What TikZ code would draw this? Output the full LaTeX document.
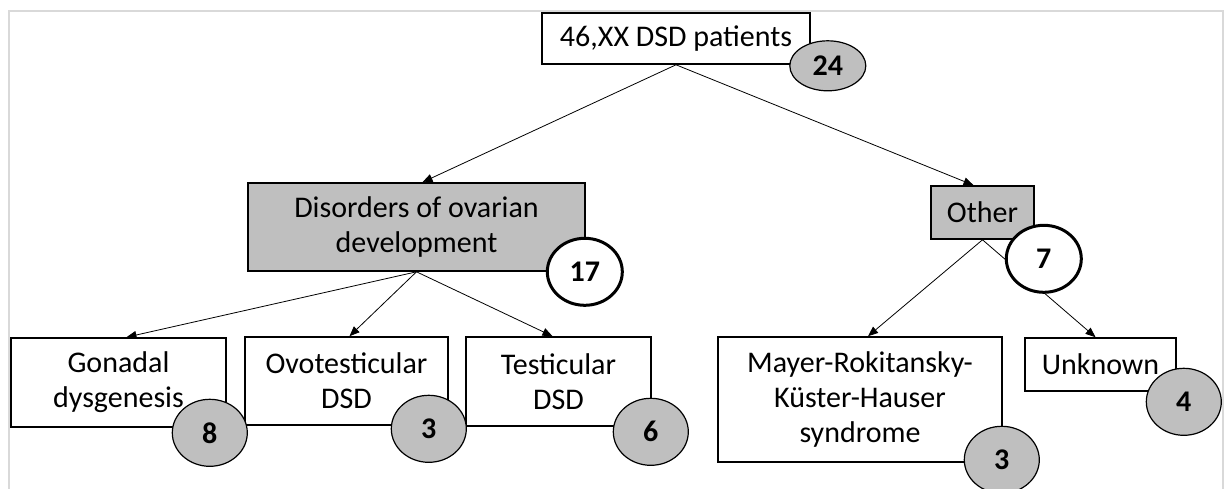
\documentclass[tikz,border=0pt]{standalone}
\usepackage{fontspec}
\setmainfont{Carlito}
\usetikzlibrary{positioning, arrows.meta, shapes.geometric}
\tikzstyle{every node}=[font=\fontsize{30}{35}\selectfont]

\begin{document}
\begin{tikzpicture}[
            x=1pt, y=-1pt,
            box/.style={draw, line width=1.6pt, fill=white, inner sep=0pt, align=center},
            grey box/.style={box, fill=boxgrey},
            count/.style={draw, ellipse, line width=1.2pt, fill=boxgrey, inner sep=0pt,
                minimum width=75pt, minimum height=67pt, font=\fontsize{30}{35}\selectfont\bfseries},
            big count/.style={count, fill=white, line width=3pt},
            tree arrow/.style={-{Triangle[length=10pt, width=8pt]}, line width=0.8pt}
        ]
            \definecolor{boxgrey}{HTML}{BFBFBF}
            \useasboundingbox (0,0) rectangle (1225,488);

            % --- Frame ---
            \draw[line width=2pt, draw=black!15] (9,495) -- (9,11) -- (1223,11) -- (1223,495);

            % --- Boxes of the tree ---
            \node[box, minimum width=268pt, minimum height=51pt] (top) at (676,38.5) {46,XX DSD patients};
            \node[grey box, minimum width=337pt, minimum height=88pt] (ovar) at (416.5,227) {Disorders of ovarian\\development};
            \node[grey box, minimum width=103pt, minimum height=53pt] (other) at (982.5,212.5) {Other};
            \node[box, minimum width=215pt, minimum height=89pt] (gonad) at (118.5,382.5) {Gonadal\\dysgenesis};
            \node[box, minimum width=203pt, minimum height=88pt] (ovot) at (346.5,381) {Ovotesticular\\DSD};
            \node[box, minimum width=185pt, minimum height=89pt] (testi) at (558.5,381.5) {Testicular\\DSD};
            \node[box, minimum width=284pt, minimum height=125pt] (mrkh) at (860,399.5) {Mayer-Rokitansky-\\K\"uster-Hauser\\syndrome};
            \node[box, minimum width=151pt, minimum height=53pt] (unkn) at (1100.5,364.5) {Unknown};

            % --- Arrows ---
            \draw[tree arrow] (top.south) -- ([xshift=6pt]ovar.north);
            \draw[tree arrow] (top.south) -- ([xshift=-9pt]other.north);
            \draw[tree arrow] (ovar.south) -- ([xshift=8pt]gonad.north);
            \draw[tree arrow] (ovar.south) -- ([xshift=3pt]ovot.north);
            \draw[tree arrow] (ovar.south) -- ([xshift=-6pt]testi.north);
            \draw[tree arrow] (other.south) -- ([xshift=8pt]mrkh.north);
            \draw[tree arrow] (other.south) -- ([xshift=-5pt]unkn.north);

            % --- Patient counts ---
            \node[count, minimum width=76pt, minimum height=50pt] (n24) at ([xshift=17pt, yshift=-1pt]top.south east) {24};
            \node[big count] (n17) at ([xshift=-1pt]ovar.south east) {17};
            \node[big count] (n7) at ([xshift=9pt, yshift=-19pt]other.south east) {7};
            \node[count] (n8) at ([xshift=-17pt, yshift=-5pt]gonad.south east) {8};
            \node[count] (n3a) at ([xshift=-20pt, yshift=-3pt]ovot.south east) {3};
            \node[count] (n6) at ([xshift=-1pt, yshift=-5pt]testi.south east) {6};
            \node[count] (n3b) at ([xshift=-1pt, yshift=3pt]mrkh.south east) {3};
            \node[count] (n4) at ([xshift=7pt, yshift=-10pt]unkn.south east) {4};

        \end{tikzpicture}
\end{document}
